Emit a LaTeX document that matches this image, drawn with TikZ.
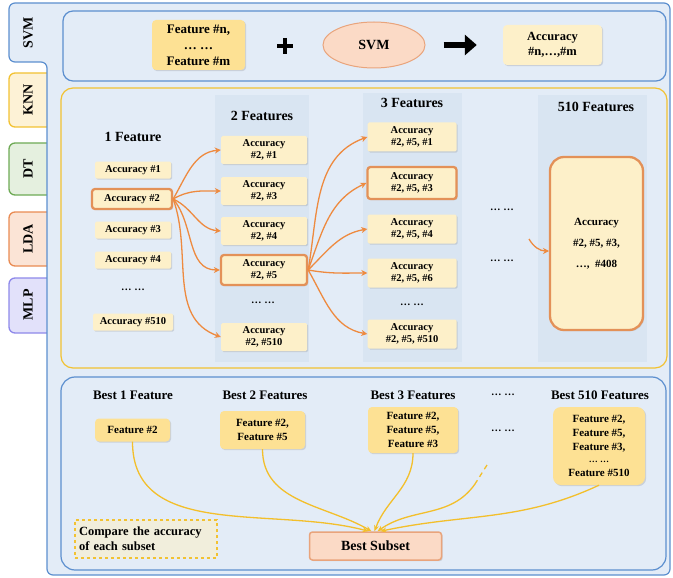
\documentclass[tikz,border=0pt]{standalone}
\usepackage{fontspec}
\setmainfont{Liberation Serif}
\usetikzlibrary{shadows,arrows.meta,shapes.geometric}
\definecolor{bgblue}{HTML}{E3ECF7}
\definecolor{bandblue}{HTML}{D9E5F2}
\definecolor{frameblue}{HTML}{5C8FCF}
\definecolor{secyellow}{HTML}{F2C232}
\definecolor{cream}{HTML}{FDF0C9}
\definecolor{featyellow}{HTML}{FDE194}
\definecolor{hlorange}{HTML}{E39158}
\definecolor{arrorange}{HTML}{EE8A3F}
\definecolor{peach}{HTML}{FBDAC6}
\definecolor{peachborder}{HTML}{E9A47C}
\definecolor{lineyellow}{HTML}{F3BF2B}
\definecolor{knnfill}{HTML}{FDF2D6}
\definecolor{dtfill}{HTML}{E5F0DF}
\definecolor{dtline}{HTML}{6EAA55}
\definecolor{ldafill}{HTML}{FBE4D6}
\definecolor{ldaline}{HTML}{E98B53}
\definecolor{mlpfill}{HTML}{E2E1FA}
\definecolor{mlpline}{HTML}{8E88EA}
\definecolor{cmpfill}{HTML}{F1EEDC}
\tikzset{
  shad/.style={drop shadow={opacity=0.25,shadow xshift=1.2pt,shadow yshift=-1.2pt}},
  accbox/.style={fill=cream, inner sep=0pt, align=center, rounded corners=1.5pt, shad,
    font=\bfseries\fontsize{10.5}{12.5}\selectfont},
  hlbox/.style={accbox, draw=hlorange, line width=2.3pt, rounded corners=3pt},
  head/.style={font=\bfseries\fontsize{14}{16}\selectfont, inner sep=0pt},
  bhead/.style={font=\bfseries\fontsize{13}{15}\selectfont, inner sep=0pt},
  dotsn/.style={font=\bfseries\fontsize{10.5}{12}\selectfont, inner sep=0pt},
  tablab/.style={rotate=90, font=\bfseries\fontsize{14}{14}\selectfont, inner sep=0pt},
  featbox/.style={fill=featyellow, inner sep=0pt, align=center, rounded corners=4pt, shad,
    font=\bfseries\fontsize{11}{14}\selectfont},
  oarr/.style={draw=arrorange, line width=1.3pt, -{Stealth[length=6pt,width=6pt]}},
  yarr/.style={draw=lineyellow, line width=1.3pt, -{Stealth[length=6pt,width=5pt]}},
}
\begin{document}
\begin{tikzpicture}[x=1pt,y=-1pt]
\useasboundingbox (0,0) rectangle (673,578);
% tabs
\path[fill=knnfill, draw=secyellow, line width=1.3pt, rounded corners=6pt] (47,73) -- (9,73) -- (9,127) -- (47,127);
\path[fill=dtfill, draw=dtline, line width=1.3pt, rounded corners=6pt] (47,143) -- (9,143) -- (9,195) -- (47,195);
\path[fill=ldafill, draw=ldaline, line width=1.3pt, rounded corners=6pt] (47,212) -- (9,212) -- (9,266) -- (47,266);
\path[fill=mlpfill, draw=mlpline, line width=1.3pt, rounded corners=6pt] (47,278) -- (9,278) -- (9,333) -- (47,333);
% outer frame with SVM tab
\path[fill=bgblue, draw=frameblue, line width=1.2pt, rounded corners=6pt]
  (47,575) -- (47,62) -- (9,62) -- (9,3) -- (670,3) -- (670,575) -- cycle;
\node[tablab] (tsvm) at (28,33) {SVM};
\node[tablab] (tknn) at (28,100) {KNN};
\node[tablab] (tdt) at (28,169) {DT};
\node[tablab] (tlda) at (28,239) {LDA};
\node[tablab] (tmlp) at (28,305) {MLP};
% sections
\draw[frameblue, line width=1.2pt, rounded corners=10pt] (63,11) rectangle (666,81);
\fill[bandblue] (215,95) rectangle (309,362);
\fill[bandblue] (363,93) rectangle (462,362);
\fill[bandblue] (538,95) rectangle (647,362);
\draw[secyellow, line width=1.2pt, rounded corners=12pt] (61,88) rectangle (667,368);
\draw[frameblue, line width=1.2pt, rounded corners=14pt] (61,377) rectangle (666,570);
% top section
\node[featbox, minimum width=93pt, minimum height=50pt, font=\bfseries\fontsize{13}{16}\selectfont] (featn) at (198.5,45) {Feature \#n,\\… …\\Feature \#m};
\draw[line width=4pt] (277,46) -- (293,46) (285,38) -- (285,54);
\node[ellipse, fill=peach, draw=peachborder, line width=1pt, minimum width=102pt, minimum height=46pt, font=\bfseries\fontsize{14}{16}\selectfont] (svm) at (374,45) {SVM};
\node[accbox, minimum width=99pt, minimum height=40pt, rounded corners=4pt, font=\bfseries\fontsize{12.5}{15}\selectfont] (accn) at (552.5,45) {Accuracy\\\#n,…,\#m};
\draw[line width=6pt, -{Triangle[length=12pt,width=20pt]}] ([xshift=18pt]svm.east) -- ([xshift=-26pt]accn.west);
% middle headings
\node[head] (h1) at (133,137) {1 Feature};
\node[head] (h2) at (262,116) {2 Features};
\node[head] (h3) at (412,103) {3 Features};
\node[head] (h510) at (596,107) {510 Features};
% column 1
\node[accbox, minimum width=76pt, minimum height=17pt] (a1) at (133,170) {Accuracy \#1};
\node[hlbox, minimum width=80pt, minimum height=20pt] (a2) at (132,199) {Accuracy \#2};
\node[accbox, minimum width=76pt, minimum height=17pt] (a3) at (133,230) {Accuracy \#3};
\node[accbox, minimum width=76pt, minimum height=17pt] (a4) at (133,260) {Accuracy \#4};
\node[dotsn] (ad) at (133,290) {… …};
\node[accbox, minimum width=80pt, minimum height=17pt] (a510) at (133,322) {Accuracy \#510};
% column 2
\node[accbox, minimum width=86pt, minimum height=28pt] (b1) at (264,150) {Accuracy\\\#2, \#1};
\node[accbox, minimum width=86pt, minimum height=28pt] (b3) at (264,191) {Accuracy\\\#2, \#3};
\node[accbox, minimum width=86pt, minimum height=28pt] (b4) at (264,231) {Accuracy\\\#2, \#4};
\node[hlbox, minimum width=86pt, minimum height=30pt] (b5) at (264,270) {Accuracy\\\#2, \#5};
\node[dotsn] (bd) at (263,303) {… …};
\node[accbox, minimum width=86pt, minimum height=28pt] (b510) at (264,337) {Accuracy\\\#2, \#510};
% column 3
\node[accbox, minimum width=89pt, minimum height=29pt] (c1) at (412,137) {Accuracy\\\#2, \#5, \#1};
\node[hlbox, minimum width=89pt, minimum height=32pt] (c3) at (412,183) {Accuracy\\\#2, \#5, \#3};
\node[accbox, minimum width=89pt, minimum height=29pt] (c4) at (412,229) {Accuracy\\\#2, \#5, \#4};
\node[accbox, minimum width=89pt, minimum height=29pt] (c6) at (412,273) {Accuracy\\\#2, \#5, \#6};
\node[dotsn] (cd) at (412,305) {… …};
\node[accbox, minimum width=89pt, minimum height=29pt] (c510) at (412,334) {Accuracy\\\#2, \#5, \#510};
% between
\node[dotsn] (md1) at (502,210) {… …};
\node[dotsn] (md2) at (502,261) {… …};
% 510 column
\node[hlbox, minimum width=93pt, minimum height=173pt, rounded corners=14pt, font=\bfseries\fontsize{11}{21}\selectfont] (z510) at (596.5,243.5) {Accuracy\\\#2, \#5, \#3,\\…,\ \ \#408};
\coordinate (s510) at (529,239);
\coordinate (e510) at (549,251);
% orange arrows
\draw[oarr] (a2.east) to[out=60,in=185] (b1.west);
\draw[oarr] (a2.east) to[out=30,in=180] (b3.west);
\draw[oarr] (a2.east) to[out=-25,in=175] (b4.west);
\draw[oarr] (a2.east) to[out=-50,in=180] (b5.west);
\draw[oarr] (a2.east) to[out=-70,in=160] (b510.west);
\draw[oarr] (b5.east) to[out=80,in=200] (c1.west);
\draw[oarr] (b5.east) to[out=70,in=205] (c3.west);
\draw[oarr] (b5.east) to[out=45,in=190] (c4.west);
\draw[oarr] (b5.east) to[out=-10,in=180] (c6.west);
\draw[oarr] (b5.east) to[out=-60,in=170] (c510.west);
\draw[oarr] (s510) to[out=-60,in=180] (e510);
% bottom section
\node[bhead] (bh1) at (133,395) {Best 1 Feature};
\node[bhead] (bh2) at (265,395) {Best 2 Features};
\node[bhead] (bh3) at (413,395) {Best 3 Features};
\node[dotsn] (bhd) at (503,395) {… …};
\node[bhead] (bh510) at (600,395) {Best 510 Features};
\node[featbox, minimum width=75pt, minimum height=23pt] (f1) at (132.5,430) {Feature \#2};
\node[featbox, minimum width=85pt, minimum height=38pt] (f2) at (262.5,430) {Feature \#2,\\Feature \#5};
\node[featbox, minimum width=90pt, minimum height=46pt] (f3) at (413,430) {Feature \#2,\\Feature \#5,\\Feature \#3};
\node[dotsn] (fd) at (503,431) {… …};
\node[featbox, minimum width=92pt, minimum height=78pt, rounded corners=8pt] (f510) at (599,446) {Feature \#2,\\Feature \#5,\\Feature \#3,\\[-2pt]{\fontsize{9}{10}\selectfont … …}\\Feature \#510};
\node[fill=peach, draw=peachborder, line width=1.5pt, rounded corners=3pt, shad, minimum width=132pt, minimum height=28pt, inner sep=0pt, font=\bfseries\fontsize{14}{16}\selectfont] (best) at (375.5,546) {Best Subset};
\node[fill=cmpfill, draw=secyellow, dashed, line width=1.5pt, minimum width=142pt, minimum height=38pt, inner sep=4pt, align=left, font=\bfseries\fontsize{12.5}{15}\selectfont, text width=134pt] (cmp) at (146,539) {Compare the accuracy\\of each subset};
\coordinate (d1) at (487,465);
\coordinate (d2) at (475,484);
\draw[yarr] (f1.south) to[out=-90,in=165] ([xshift=-7pt]best.north);
\draw[yarr] (f2.south) to[out=-90,in=150] ([xshift=-4pt]best.north);
\draw[yarr] (f3.south) to[out=-90,in=70] ([xshift=-1pt]best.north);
\draw[lineyellow, line width=1.3pt, dash pattern=on 5pt off 4pt] (d1) -- (d2);
\draw[yarr] (d2) to[out=-125,in=35] ([xshift=2pt]best.north);
\draw[yarr] (f510.south) to[out=-155,in=12] ([xshift=5pt]best.north);
\end{tikzpicture}
\end{document}
